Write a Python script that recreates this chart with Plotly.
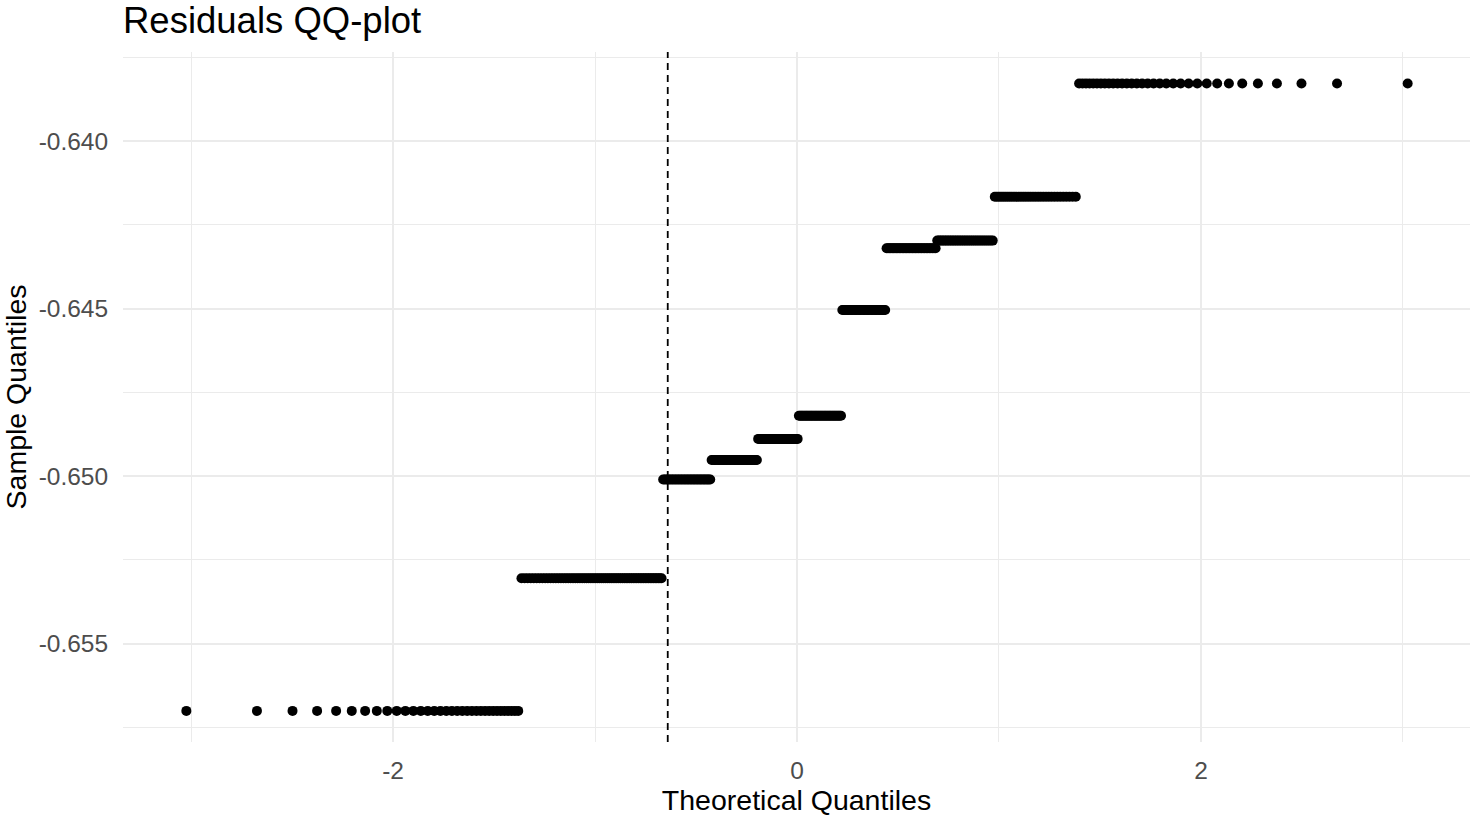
import plotly.graph_objects as go
from statistics import NormalDist

# Sample residual levels (distinct values) and how many observations sit at each
sample_levels = [-0.65701, -0.65305, -0.65010, -0.64952, -0.64889, -0.64820,
                 -0.64504, -0.64320, -0.64297, -0.64166, -0.63828]
level_counts = [34, 67, 33, 35, 32, 34, 33, 34, 32, 33, 33]

vline_x = [-0.64]

x_ticks = [-2, 0, 2]
x_tick_labels = ["-2", "0", "2"]
y_ticks = [-0.655, -0.650, -0.645, -0.640]
y_tick_labels = ["-0.655", "-0.650", "-0.645", "-0.640"]

# QQ statistic: sorted sample vs. normal quantiles at ppoints(n)
sample = []
for v, c in zip(sample_levels, level_counts):
    sample.extend([v] * c)
sample.sort()
n = len(sample)
nd = NormalDist()
theoretical = [nd.inv_cdf((i + 1 - 0.5) / n) for i in range(n)]

FONT = "Liberation Sans, Arial, Helvetica, sans-serif"
GRID = "#EBEBEB"

fig = go.Figure()
fig.add_trace(go.Scatter(
    x=theoretical, y=sample, mode="markers",
    marker=dict(color="black", size=10, line=dict(width=0)),
    hoverinfo="skip", showlegend=False,
))

for xv in vline_x:
    fig.add_shape(type="line", xref="x", yref="paper", x0=xv, x1=xv, y0=0, y1=1,
                  line=dict(color="black", width=1.8, dash="7px,5px"), layer="above")

fig.update_layout(
    width=1476, height=818,
    margin=dict(l=123, r=6, t=52, b=76, autoexpand=False),
    paper_bgcolor="white", plot_bgcolor="white",
    font=dict(family=FONT, color="black"),
    title=dict(text="Residuals QQ-plot", x=123 / 1476, xanchor="left", xref="container",
               y=1 - 20 / 818, yanchor="middle", yref="container",
               font=dict(size=36.5, color="black", family=FONT)),
    xaxis=dict(
        range=[-3.337, 3.332], tickmode="array", tickvals=x_ticks, ticktext=x_tick_labels,
        showgrid=True, gridcolor=GRID, gridwidth=1.7, zeroline=False, showline=False,
        automargin=False,
        ticks="outside", ticklen=7, tickcolor="rgba(0,0,0,0)",
        tickfont=dict(size=24.5, color="#4D4D4D", family=FONT),
        minor=dict(tickmode="array", tickvals=[-3, -1, 1, 3], showgrid=True,
                   gridcolor=GRID, gridwidth=1.4, ticks=""),
        title=dict(text="Theoretical Quantiles", standoff=6,
                   font=dict(size=28.5, color="black", family=FONT)),
    ),
    yaxis=dict(
        range=[-0.657939, -0.63734], tickmode="array", tickvals=y_ticks, ticktext=y_tick_labels,
        showgrid=True, gridcolor=GRID, gridwidth=1.7, zeroline=False, showline=False,
        automargin=False,
        ticks="outside", ticklen=9, tickcolor="rgba(0,0,0,0)",
        tickfont=dict(size=24.5, color="#4D4D4D", family=FONT),
        minor=dict(tickmode="array", tickvals=[-0.6575, -0.6525, -0.6475, -0.6425, -0.6375],
                   showgrid=True, gridcolor=GRID, gridwidth=1.4, ticks=""),
        title=dict(text="Sample Quantiles", standoff=6,
                   font=dict(size=28.5, color="black", family=FONT)),
    ),
)

fig.write_html("out.html", config={"displayModeBar": False},
               post_script="document.body.style.margin='0';document.body.style.overflow='hidden';")
